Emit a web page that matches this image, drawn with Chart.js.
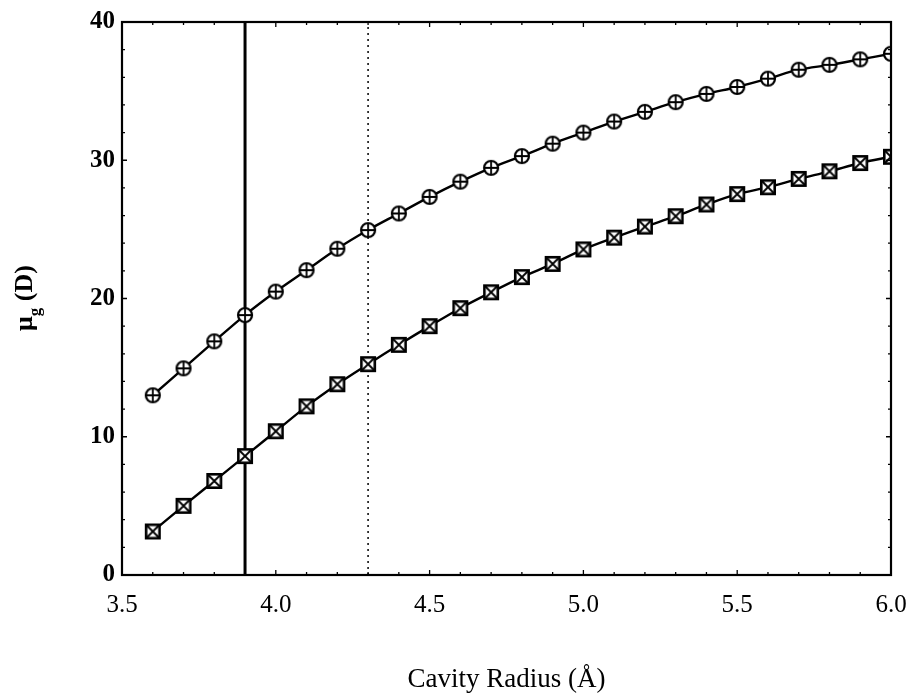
<!DOCTYPE html>
<html>
<head>
<meta charset="utf-8">
<script src="https://cdn.jsdelivr.net/npm/chart.js@4/dist/chart.umd.min.js"></script>
<style>
html,body{margin:0;padding:0;background:#fff;}
#wrap{width:911px;height:697px;position:relative;}
</style>
</head>
<body>
<div id="wrap"><canvas id="c"></canvas></div>
<script>
const radii = [3.6,3.7,3.8,3.9,4.0,4.1,4.2,4.3,4.4,4.5,4.6,4.7,4.8,4.9,5.0,5.1,5.2,5.3,5.4,5.5,5.6,5.7,5.8,5.9,6.0];
const muCircle = [13.0,14.95,16.9,18.8,20.5,22.05,23.6,24.95,26.15,27.35,28.45,29.45,30.3,31.2,32.0,32.8,33.5,34.2,34.8,35.3,35.9,36.55,36.9,37.3,37.7];
const muSquare = [3.15,5.0,6.8,8.6,10.4,12.2,13.8,15.25,16.65,18.0,19.3,20.45,21.55,22.5,23.55,24.4,25.2,25.95,26.8,27.55,28.05,28.65,29.2,29.8,30.25];
const refLinesX = [3.9, 4.3];
const xTicks = [3.5,4.0,4.5,5.0,5.5,6.0];
const yTicks = [0,10,20,30,40];
const xTitle = 'Cavity Radius (Å)';
const yTitleMain = 'μ', yTitleSub = 'g', yTitleTail = ' (D)';

function markerCircle(){
  const s = 18, c = document.createElement('canvas'); c.width = s; c.height = s;
  const g = c.getContext('2d');
  g.fillStyle = '#fff'; g.strokeStyle = '#000'; g.lineWidth = 2.2;
  g.beginPath(); g.arc(9,9,7,0,Math.PI*2); g.fill(); g.stroke();
  g.lineWidth = 1.8;
  g.beginPath(); g.moveTo(2,9); g.lineTo(16,9); g.moveTo(9,2); g.lineTo(9,16); g.stroke();
  return c;
}
function markerSquare(){
  const s = 18, c = document.createElement('canvas'); c.width = s; c.height = s;
  const g = c.getContext('2d');
  g.fillStyle = '#fff'; g.strokeStyle = '#000'; g.lineWidth = 2.6;
  g.fillRect(2,2,14,14); g.strokeRect(2.3,2.3,13.4,13.4);
  g.lineWidth = 1.8;
  g.beginPath(); g.moveTo(3,3); g.lineTo(15,15); g.moveTo(15,3); g.lineTo(3,15); g.stroke();
  return c;
}

const series1 = radii.map((x,i)=>({x:x, y:muCircle[i]}));
const series2 = radii.map((x,i)=>({x:x, y:muSquare[i]}));

const framePlugin = {
  id:'frame',
  afterDraw(chart){
    const ctx = chart.ctx, a = chart.chartArea;
    const xs = chart.scales.x, ys = chart.scales.y;
    ctx.save();
    ctx.strokeStyle = '#000';
    ctx.lineWidth = 2.2;
    ctx.strokeRect(a.left, a.top, a.right - a.left, a.bottom - a.top);
    ctx.lineWidth = 1.3;
    ctx.beginPath();
    for (let k = 35; k <= 60; k++) {
      const px = xs.getPixelForValue(k/10);
      const len = (k % 5 === 0) ? 5 : 3;
      ctx.moveTo(px, a.bottom); ctx.lineTo(px, a.bottom - len);
      ctx.moveTo(px, a.top); ctx.lineTo(px, a.top + len);
    }
    for (let v = 0; v <= 40; v += 2) {
      const py = ys.getPixelForValue(v);
      const len = (v % 10 === 0) ? 5 : 3;
      ctx.moveTo(a.left, py); ctx.lineTo(a.left + len, py);
      ctx.moveTo(a.right, py); ctx.lineTo(a.right - len, py);
    }
    ctx.stroke();
    // y title
    ctx.translate(25, 298);
    ctx.rotate(-Math.PI/2);
    ctx.fillStyle = '#000';
    ctx.textBaseline = 'middle';
    ctx.textAlign = 'left';
    const big = 'bold 26px "Liberation Serif"', small = 'bold 17px "Liberation Serif"';
    ctx.font = big;
    const w1 = ctx.measureText(yTitleMain).width;
    ctx.font = small;
    const w2 = ctx.measureText(yTitleSub).width;
    ctx.font = big;
    const w3 = ctx.measureText(yTitleTail).width;
    let x0 = -(w1 + w2 + w3)/2;
    ctx.fillText(yTitleMain, x0, 0);
    ctx.font = small;
    ctx.fillText(yTitleSub, x0 + w1, 11);
    ctx.font = big;
    ctx.fillText(yTitleTail, x0 + w1 + w2, 0);
    ctx.restore();
  }
};

new Chart(document.getElementById('c'), {
  type:'scatter',
  data:{
    datasets:[
      {data: series1, showLine:true, borderColor:'#000', borderWidth:2.4, pointStyle: markerCircle(), pointRadius:9, pointHoverRadius:9, cubicInterpolationMode:'monotone', order:1},
      {data: series2, showLine:true, borderColor:'#000', borderWidth:2.4, pointStyle: markerSquare(), pointRadius:9, pointHoverRadius:9, cubicInterpolationMode:'monotone', order:1},
      {data: [{x:refLinesX[0], y:yTicks[0]},{x:refLinesX[0], y:yTicks[yTicks.length-1]}], showLine:true, borderColor:'#000', borderWidth:3, pointRadius:0, order:2},
      {data: [{x:refLinesX[1], y:yTicks[0]},{x:refLinesX[1], y:yTicks[yTicks.length-1]}], showLine:true, borderColor:'#000', borderWidth:1.5, borderDash:[2,4], pointRadius:0, order:2}
    ]
  },
  options:{
    responsive:true, maintainAspectRatio:false, animation:false,
    layout:{autoPadding:false, padding:{left:0, right:20, top:22, bottom:0}},
    plugins:{legend:{display:false}, tooltip:{enabled:false}},
    scales:{
      x:{
        type:'linear', min:xTicks[0], max:xTicks[xTicks.length-1],
        afterBuildTicks(s){ s.ticks = xTicks.map(v=>({value:v})); },
        afterFit(s){ s.height = 122; s.paddingLeft = 0; s.paddingRight = 0; },
        grid:{display:false, drawTicks:false}, border:{display:false},
        ticks:{padding:15, color:'#000', font:{family:'"Liberation Serif"', size:25}, callback:v=>Number(v).toFixed(1)},
        title:{display:true, text:xTitle, color:'#000', font:{family:'"Liberation Serif"', size:27}, padding:{top:0, bottom:1}}
      },
      y:{
        type:'linear', min:yTicks[0], max:yTicks[yTicks.length-1],
        afterBuildTicks(s){ s.ticks = yTicks.map(v=>({value:v})); },
        afterFit(s){ s.width = 122; s.paddingTop = 0; s.paddingBottom = 0; },
        grid:{display:false, drawTicks:false}, border:{display:false},
        ticks:{padding:7, color:'#000', font:{family:'"Liberation Serif"', size:25, weight:'bold'}}
      }
    }
  },
  plugins:[framePlugin]
});
</script>
</body>
</html>
